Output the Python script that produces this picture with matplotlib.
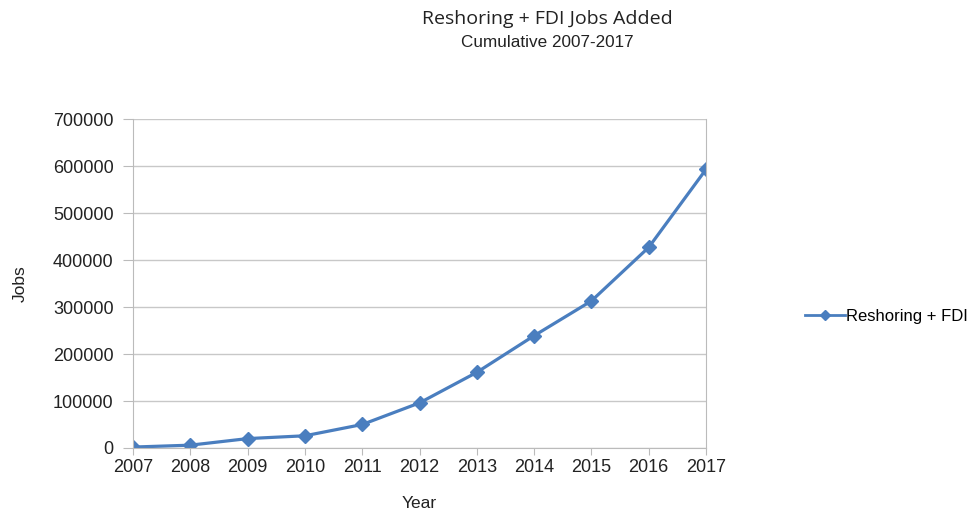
import matplotlib.pyplot as plt
from matplotlib.lines import Line2D

years = [2007, 2008, 2009, 2010, 2011, 2012, 2013, 2014, 2015, 2016, 2017]
jobs = [2000, 6000, 20000, 26000, 50000, 96000, 161000, 239000, 313000, 427000, 593000]
y_ticks = [0, 100000, 200000, 300000, 400000, 500000, 600000, 700000]

plt.rcParams['font.family'] = ['Liberation Sans', 'DejaVu Sans']

fig = plt.figure(figsize=(9.76, 5.11), dpi=100)
ax = fig.add_axes([0.1363, 0.1233, 0.5871, 0.6437])

line_color = "#4A7EBF"
ax.plot(years, jobs, color=line_color, linewidth=2.3, marker="D", markersize=7)

ax.set_xlim(2007, 2017)
ax.set_ylim(0, 700000)
ax.set_xticks(years)
ax.set_yticks(y_ticks)
ax.set_yticklabels([str(v) for v in y_ticks])
ax.tick_params(axis="both", labelsize=13, colors="#222222")
ax.tick_params(axis="x", length=5, color="#bbbbbb", pad=3)
ax.tick_params(axis="y", length=7, color="#bbbbbb", pad=7)
ax.grid(axis="y", color="#c8c8c8", linewidth=1)
ax.set_axisbelow(True)
for side in ["left", "bottom", "right"]:
    ax.spines[side].set_color("#bbbbbb")
ax.spines["top"].set_visible(False)

ax.set_xlabel("Year", fontsize=12.5, color="#222222", labelpad=14)
ax.set_ylabel("Jobs", fontsize=12.5, color="#222222", labelpad=18)

fig.text(0.561, 0.963, "Reshoring + FDI Jobs Added", ha="center", va="center",
         fontsize=14, family=["Open Sans", "DejaVu Sans"], color="#222222")
fig.text(0.561, 0.917, "Cumulative 2007-2017", ha="center", va="center",
         fontsize=12.3, color="#222222")

handle = Line2D([], [], color=line_color, linewidth=2, marker="D", markersize=5)
ax.legend([handle], ["Reshoring + FDI"], loc="center left",
          bbox_to_anchor=(1.146, 0.40), frameon=False,
          fontsize=12, handlelength=2.4, handletextpad=0.1)

fig.savefig("out.png", dpi=100, facecolor="white")
